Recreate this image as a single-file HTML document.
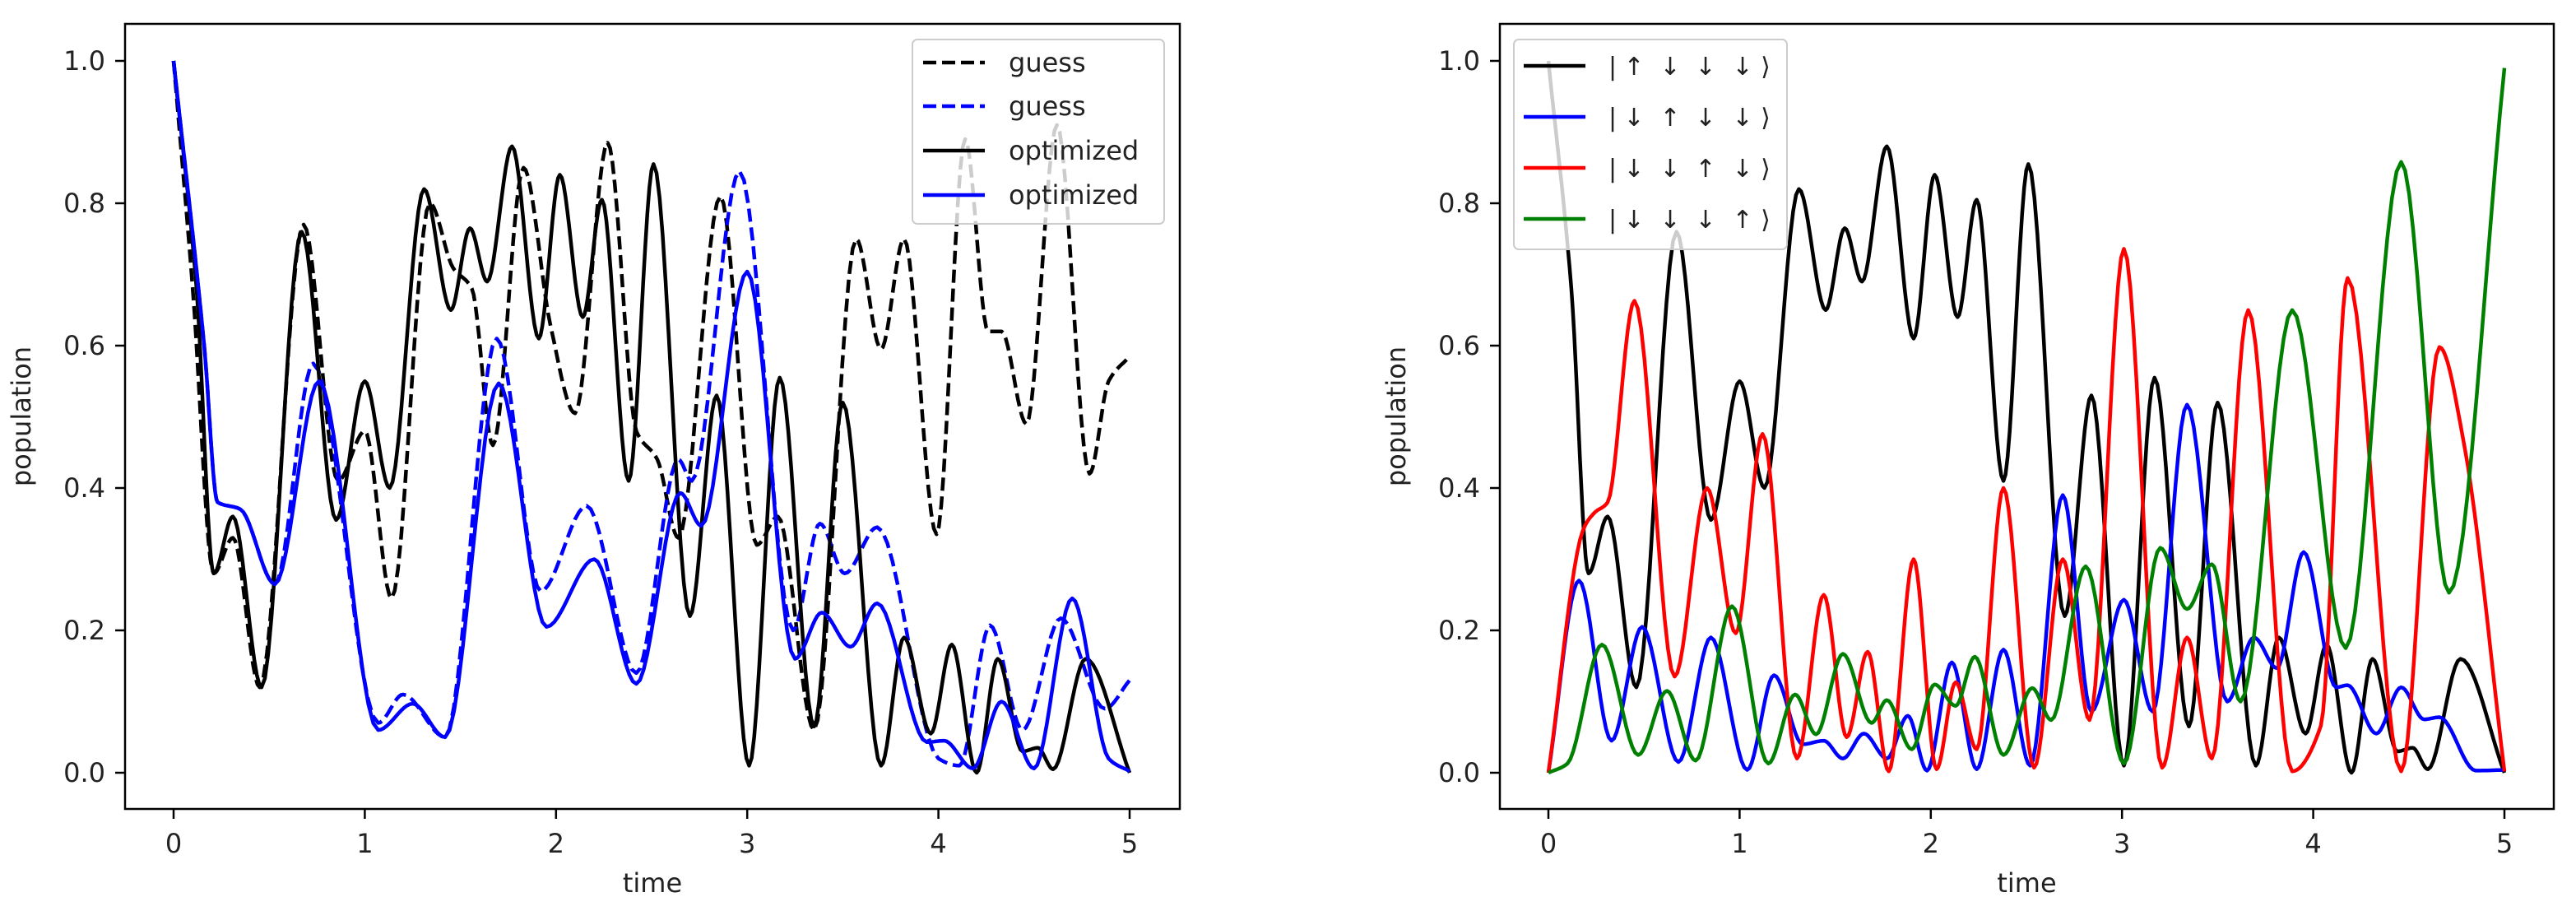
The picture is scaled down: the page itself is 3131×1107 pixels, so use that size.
<!DOCTYPE html>
<html><head><meta charset="utf-8"><style>
html,body{margin:0;padding:0;background:#fff;}
svg{display:block;font-family:"DejaVu Sans","Liberation Sans",sans-serif;}
</style></head><body>
<svg id="fig" width="3131" height="1107" viewBox="0 0 3131 1107" xmlns="http://www.w3.org/2000/svg">
<rect x="0" y="0" width="3131" height="1107" fill="#fff"/>
<g id="left"></g>
<g id="right"></g>
</svg>
<script>
// ---- data (time, population) ----
const xTicks = [0,1,2,3,5,4].sort();
const yTicks = [0.0,0.2,0.4,0.6,0.8,1.0];
const yTickLabels = ["0.0","0.2","0.4","0.6","0.8","1.0"];
const xTickLabels = ["0","1","2","3","4","5"];

const guessBlackT = [0,0.1,0.21,0.31,0.45,0.68,0.86,1.0,1.14,1.34,1.46,1.56,1.67,1.83,1.97,2.10,2.27,2.42,2.53,2.64,2.86,3.05,3.16,3.35,3.57,3.70,3.82,3.99,4.14,4.26,4.33,4.46,4.62,4.79,4.89,5.0];
const guessBlackV = [1.0,0.68,0.28,0.33,0.12,0.77,0.41,0.48,0.245,0.80,0.71,0.68,0.46,0.85,0.63,0.505,0.885,0.48,0.44,0.33,0.81,0.32,0.36,0.06,0.75,0.595,0.75,0.335,0.89,0.62,0.62,0.49,0.91,0.42,0.55,0.585];

const guessBlueT = [0,0.16,0.23,0.35,0.53,0.73,1.07,1.2,1.42,1.69,1.92,2.16,2.42,2.64,2.71,2.96,3.24,3.38,3.51,3.68,4.0,4.11,4.27,4.44,4.64,4.87,5.0];
const guessBlueV = [1.0,0.6,0.38,0.37,0.265,0.575,0.07,0.11,0.05,0.61,0.255,0.375,0.14,0.44,0.41,0.845,0.2,0.35,0.28,0.345,0.02,0.01,0.207,0.06,0.217,0.09,0.13];

const optBlackT = [0,0.12,0.21,0.31,0.46,0.67,0.85,1.0,1.13,1.31,1.45,1.55,1.64,1.77,1.91,2.02,2.14,2.24,2.38,2.51,2.70,2.84,3.01,3.17,3.35,3.50,3.70,3.82,3.96,4.07,4.20,4.31,4.44,4.52,4.60,4.77,5.0];
const optBlackV = [1.0,0.68,0.28,0.36,0.12,0.76,0.355,0.55,0.40,0.82,0.65,0.765,0.69,0.88,0.61,0.84,0.64,0.805,0.41,0.855,0.22,0.53,0.01,0.555,0.065,0.52,0.01,0.19,0.055,0.18,0.0,0.16,0.03,0.035,0.005,0.16,0.0];

const optBlueT = [0,0.16,0.23,0.35,0.53,0.76,1.07,1.25,1.42,1.70,1.95,2.20,2.42,2.65,2.76,3.0,3.25,3.39,3.54,3.68,3.94,4.03,4.18,4.33,4.50,4.70,4.89,5.0];
const optBlueV = [1.0,0.6,0.38,0.37,0.265,0.55,0.06,0.097,0.05,0.547,0.205,0.30,0.125,0.393,0.347,0.704,0.16,0.225,0.177,0.238,0.043,0.045,0.006,0.10,0.006,0.245,0.02,0.002];

// right chart: populations of basis states
const s1T = optBlackT;
const s1V = optBlackV;
const s2T = [0,0.16,0.33,0.49,0.68,0.85,1.04,1.18,1.33,1.44,1.54,1.65,1.77,1.88,1.98,2.11,2.24,2.38,2.52,2.69,2.84,3.01,3.16,3.34,3.55,3.69,3.81,3.95,4.12,4.18,4.33,4.46,4.58,4.66,4.85,5.0];
const s2V = [0,0.27,0.045,0.205,0.015,0.19,0.004,0.137,0.04,0.045,0.02,0.055,0.02,0.08,0.003,0.155,0.005,0.173,0.01,0.39,0.086,0.243,0.086,0.517,0.10,0.19,0.147,0.31,0.12,0.123,0.055,0.12,0.075,0.078,0.003,0.004];
const s3T = [0,0.18,0.24,0.31,0.45,0.66,0.83,0.98,1.12,1.30,1.44,1.56,1.67,1.78,1.91,2.03,2.13,2.24,2.38,2.54,2.69,2.83,3.01,3.21,3.34,3.47,3.66,3.89,4.04,4.18,4.46,4.66,4.79,5.0];
const s3V = [0,0.34,0.365,0.38,0.663,0.135,0.40,0.196,0.476,0.02,0.25,0.05,0.17,0.002,0.30,0.005,0.127,0.033,0.40,0.007,0.30,0.074,0.736,0.007,0.19,0.02,0.65,0.002,0.066,0.695,0.002,0.598,0.46,0.002];
const s4T = [0,0.1,0.28,0.47,0.62,0.77,0.96,1.15,1.29,1.40,1.54,1.69,1.77,1.90,2.02,2.13,2.23,2.38,2.53,2.63,2.81,3.01,3.20,3.34,3.47,3.62,3.89,4.17,4.46,4.71,5.0];
const s4V = [0,0.013,0.18,0.025,0.115,0.017,0.234,0.013,0.11,0.054,0.167,0.07,0.102,0.033,0.124,0.094,0.163,0.025,0.119,0.074,0.29,0.013,0.316,0.23,0.293,0.10,0.65,0.175,0.858,0.253,0.99];

const leftLegendLabels = ["guess","guess","optimized","optimized"];
const rightLegendSymbols = [["|","↑","↓","↓","↓","⟩"],["|","↓","↑","↓","↓","⟩"],["|","↓","↓","↑","↓","⟩"],["|","↓","↓","↓","↑","⟩"]];

// ---- helpers ----
const NS = "http://www.w3.org/2000/svg";
function mk(tag, attrs, parent){
  const e = document.createElementNS(NS, tag);
  for (const k in attrs) e.setAttribute(k, attrs[k]);
  parent.appendChild(e);
  return e;
}
function monotone(xs, ys, n){
  const m = xs.length, d = [], s = [];
  for (let i=0;i<m-1;i++) d.push((ys[i+1]-ys[i])/(xs[i+1]-xs[i]));
  for (let i=0;i<m;i++){
    if (i===0) s.push(d[0]); else if (i===m-1) s.push(d[m-2]);
    else s.push(d[i-1]*d[i]<=0 ? 0 : 2/(1/d[i-1]+1/d[i]));
  }
  const out=[];
  for (let i=0;i<m-1;i++){
    const h=xs[i+1]-xs[i];
    for (let k=0;k<n;k++){
      const t=k/n, t2=t*t, t3=t2*t;
      const y=(2*t3-3*t2+1)*ys[i]+(t3-2*t2+t)*h*s[i]+(-2*t3+3*t2)*ys[i+1]+(t3-t2)*h*s[i+1];
      out.push([xs[i]+t*h, y]);
    }
  }
  out.push([xs[m-1], ys[m-1]]);
  return out;
}
function makeAxes(g, box, x0px, unit){
  const X = t => x0px + t*unit;
  const Y = v => 939 - v*865;
  // ticks
  xTicks.forEach((t,i)=>{
    const tk = mk("line",{x1:X(t),x2:X(t),y1:box.b,y2:box.b+12,stroke:"#000","stroke-width":2.5},g);
    
    
    const tl = mk("text",{x:X(t),y:1036,"text-anchor":"middle","font-size":32,fill:"#222"},g);
    tl.textContent = xTickLabels[i];
    
    
  });
  yTicks.forEach((v,i)=>{
    const tk = mk("line",{x1:box.l-12,x2:box.l,y1:Y(v),y2:Y(v),stroke:"#000","stroke-width":2.5},g);
    
    
    const tl = mk("text",{x:box.l-24,y:Y(v)+11,"text-anchor":"end","font-size":32,fill:"#222"},g);
    tl.textContent = yTickLabels[i];
    
    
  });
  const xl = mk("text",{x:(box.l+box.r)/2,y:1084,"text-anchor":"middle","font-size":32,fill:"#222"},g);
  xl.textContent="time";
  
  
  const yx = box.l-115;
  const yl = mk("text",{x:yx,y:(box.t+box.b)/2,"text-anchor":"middle","font-size":32,fill:"#222",transform:`rotate(-90 ${yx} ${(box.t+box.b)/2})`},g);
  yl.textContent="population";
  
  
  return {X,Y};
}
function frame(g, box){
  const f = mk("rect",{x:box.l,y:box.t,width:box.r-box.l,height:box.b-box.t,fill:"none",stroke:"#000","stroke-width":2.5},g);
  
  
}
function series(g, ax, ts, vs, color, dash, name){
  const pts = monotone(ts, vs, 12).map(p=>ax.X(p[0]).toFixed(1)+","+ax.Y(p[1]).toFixed(1)).join(" ");
  const a = {points:pts,fill:"none",stroke:color,"stroke-width":4.5,"stroke-linejoin":"round"};
  if (dash) a["stroke-dasharray"]="16,7";
  const p = mk("polyline",a,g);
  
  
}

// ---- left chart ----
const gL = document.getElementById("left");
const boxL = {l:152,r:1434,t:29,b:983};
const axL = makeAxes(gL, boxL, 211, 232.4);
series(gL, axL, guessBlackT, guessBlackV, "#000", true, "guess-black-line");
series(gL, axL, guessBlueT, guessBlueV, "#0000ff", true, "guess-blue-line");
series(gL, axL, optBlackT, optBlackV, "#000", false, "optimized-black-line");
series(gL, axL, optBlueT, optBlueV, "#0000ff", false, "optimized-blue-line");
frame(gL, boxL);
const legL = mk("g",{},gL);


mk("rect",{x:1109,y:48,width:306,height:224,rx:6,fill:"#fff","fill-opacity":0.8,stroke:"#ccc","stroke-width":2},legL);
const legLColors=["#000","#0000ff","#000","#0000ff"], legLDash=[true,true,false,false], legLY=[76,129,183,237];
leftLegendLabels.forEach((lab,i)=>{
  const a={x1:1122,x2:1197,y1:legLY[i],y2:legLY[i],stroke:legLColors[i],"stroke-width":4.5};
  if(legLDash[i]) a["stroke-dasharray"]="16,7";
  const ln=mk("line",a,legL);
  
  
  const tx=mk("text",{x:1226,y:legLY[i]+11,"font-size":32,fill:"#222"},legL);
  tx.textContent=lab;
  
  
});

// ---- right chart ----
const gR = document.getElementById("right");
const boxR = {l:1823,r:3104,t:29,b:983};
const axR = makeAxes(gR, boxR, 1882, 232.4);
series(gR, axR, s1T, s1V, "#000", false, "state-up-down-down-down-line");
series(gR, axR, s2T, s2V, "#0000ff", false, "state-down-up-down-down-line");
series(gR, axR, s3T, s3V, "#ff0000", false, "state-down-down-up-down-line");
series(gR, axR, s4T, s4V, "#008000", false, "state-down-down-down-up-line");
frame(gR, boxR);
const legR = mk("g",{},gR);


mk("rect",{x:1840,y:48,width:332,height:255,rx:6,fill:"#fff","fill-opacity":0.8,stroke:"#ccc","stroke-width":2},legR);
const legRColors=["#000","#0000ff","#ff0000","#008000"], legRY=[80,142,204,266], symX=[1960,1986,2030,2073,2118,2146];
rightLegendSymbols.forEach((syms,i)=>{
  const ln=mk("line",{x1:1852,x2:1927,y1:legRY[i],y2:legRY[i],stroke:legRColors[i],"stroke-width":4.5},legR);
  
  
  const tx=mk("text",{y:legRY[i]+11,"font-size":30,fill:"#222"},legR);
  
  
  syms.forEach((c,j)=>{
    const sp=mk("tspan",{x:symX[j],"text-anchor":"middle"},tx);
    sp.textContent=c;
  });
});
</script>
</body></html>
